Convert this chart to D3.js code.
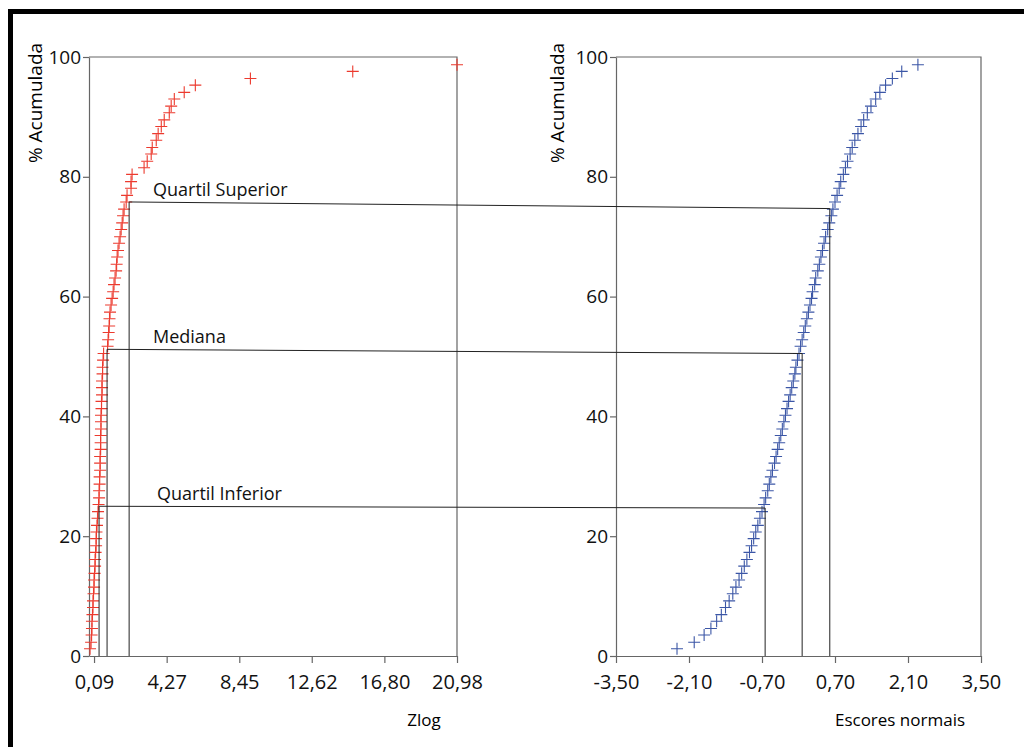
<!DOCTYPE html>
<html>
<head>
<meta charset="utf-8">
<script src="https://cdn.jsdelivr.net/npm/d3@7"></script>
<style>
  body { margin: 0; background: #fff; }
  svg { display: block; font-family: "Open Sans", sans-serif; }
  .axis path, .axis line { stroke: #666; stroke-width: 1.2; }
  .axis text { fill: #111; font-family: "Open Sans", sans-serif; }
</style>
</head>
<body>
<svg id="chart" width="1024" height="747"></svg>
<script>
// cumulative percentage of each observation (shared by both panels)
const pct = [1.2, 2.3, 3.5, 4.6, 5.8, 6.9, 8.1, 9.2, 10.4, 11.5,
  12.7, 13.8, 15.0, 16.1, 17.3, 18.4, 19.6, 20.7, 21.8, 23.0,
  24.1, 25.3, 26.4, 27.6, 28.7, 29.9, 31.0, 32.2, 33.3, 34.5,
  35.6, 36.8, 37.9, 39.1, 40.2, 41.3, 42.5, 43.6, 44.8, 45.9,
  47.1, 48.2, 49.4, 50.5, 51.7, 52.8, 54.0, 55.1, 56.3, 57.4,
  58.6, 59.7, 60.8, 62.0, 63.1, 64.3, 65.4, 66.6, 67.7, 68.9,
  70.0, 71.2, 72.3, 73.5, 74.6, 75.8, 76.9, 78.1, 79.2, 80.4,
  81.5, 82.6, 83.8, 84.9, 86.1, 87.2, 88.4, 89.5, 90.7, 91.8,
  93.0, 94.1, 95.3, 96.4, 97.6, 98.7];

// Zlog values (left panel)
const zlog = [-0.14, -0.08, -0.05, -0.03, -0.03, 0.00, 0.03, 0.03, 0.06, 0.09,
  0.09, 0.12, 0.15, 0.15, 0.18, 0.21, 0.21, 0.23, 0.26, 0.29,
  0.32, 0.35, 0.38, 0.38, 0.41, 0.41, 0.44, 0.44, 0.44, 0.47,
  0.47, 0.47, 0.49, 0.49, 0.49, 0.52, 0.52, 0.55, 0.55, 0.55,
  0.58, 0.58, 0.61, 0.64, 0.87, 0.90, 0.93, 0.96, 0.98, 1.01,
  1.07, 1.13, 1.19, 1.24, 1.30, 1.36, 1.39, 1.42, 1.47, 1.53,
  1.59, 1.65, 1.71, 1.76, 1.82, 1.94, 1.99, 2.22, 2.22, 2.28,
  2.97, 3.15, 3.38, 3.44, 3.67, 3.78, 3.96, 4.13, 4.42, 4.53,
  4.71, 5.28, 5.92, 9.09, 14.98, 20.98];

// normal scores (right panel)
const escores = [-2.33, -2.00, -1.81, -1.68, -1.57, -1.48, -1.40, -1.33, -1.26, -1.20,
  -1.14, -1.09, -1.04, -0.99, -0.94, -0.90, -0.86, -0.82, -0.78, -0.74,
  -0.70, -0.66, -0.63, -0.59, -0.56, -0.53, -0.50, -0.46, -0.43, -0.40,
  -0.37, -0.34, -0.31, -0.28, -0.25, -0.22, -0.19, -0.16, -0.13, -0.10,
  -0.07, -0.05, -0.02, 0.01, 0.04, 0.07, 0.10, 0.13, 0.16, 0.19,
  0.22, 0.25, 0.27, 0.31, 0.33, 0.37, 0.40, 0.43, 0.46, 0.49,
  0.52, 0.56, 0.59, 0.63, 0.66, 0.70, 0.74, 0.78, 0.81, 0.86,
  0.90, 0.94, 0.99, 1.03, 1.08, 1.14, 1.20, 1.25, 1.32, 1.39,
  1.48, 1.56, 1.67, 1.80, 1.98, 2.29];

// quartile guides
const quartLabels = ["Quartil Inferior", "Mediana", "Quartil Superior"];
const quartZlog = [0.38, 0.84, 2.11];
const quartEscores = [-0.64, 0.07, 0.60];
const quartPctLeft = [25.0, 51.2, 75.8];
const quartPctRight = [24.7, 50.5, 74.7];

// ticks
const yTicks = [0, 20, 40, 60, 80, 100];
const zlogTicks = [0.09, 4.27, 8.45, 12.62, 16.80, 20.98];
const escoresTicks = [-3.5, -2.1, -0.7, 0.7, 2.1, 3.5];

let svg = d3.select("#chart");

let ptBR = d3.formatLocale({decimal: ",", thousands: ".", grouping: [3], currency: ["", ""], minus: "-"});
let fmt2 = ptBR.format(".2f");

// outer black border (only top and left visible in the picture)
svg.append("path")
  .attr("d", "M10.5,760 L10.5,11.5 L1040,11.5")
  .attr("fill", "none")
  .attr("stroke", "#000")
  .attr("stroke-width", 5);

let y = d3.scaleLinear().domain([0, 100]).range([656, 57]);
let xL = d3.scaleLinear().domain([-0.2, 20.98]).range([89, 457]);
let xR = d3.scaleLinear().domain([-3.5, 3.5]).range([616, 981]);

let cross = "M-6,0H6M0,-6V6";

function drawPanel(x, ticks, xVals, color, xTitle, titleX, yTitleX) {
  let g = svg.append("g");

  // frame (top and right)
  g.append("path")
    .attr("d", `M${x.range()[0]},${y(100)}H${x.range()[1]}V${y(0)}`)
    .attr("fill", "none")
    .attr("stroke", "#666")
    .attr("stroke-width", 1.2);

  let xAxis = g.append("g").attr("class", "axis")
    .attr("transform", `translate(0,${y(0)})`)
    .call(d3.axisBottom(x).tickValues(ticks).tickSize(7).tickSizeOuter(0).tickPadding(12).tickFormat(fmt2));
  xAxis.selectAll("text").attr("font-size", 20);

  let yAxis = g.append("g").attr("class", "axis")
    .attr("transform", `translate(${x.range()[0]},0)`)
    .call(d3.axisLeft(y).tickValues(yTicks).tickSize(6).tickSizeOuter(0).tickPadding(2));
  yAxis.selectAll("text").attr("font-size", 19);

  g.append("text")
    .attr("x", titleX).attr("y", 726)
    .attr("text-anchor", "middle")
    .attr("font-size", 17)
    .text(xTitle);

  g.append("text")
    .attr("transform", `translate(${yTitleX},${103}) rotate(-90)`)
    .attr("text-anchor", "middle")
    .attr("font-size", 19)
    .text("% Acumulada");

  g.append("g").selectAll("path")
    .data(xVals)
    .join("path")
    .attr("transform", (d, i) => `translate(${x(d)},${y(pct[i])})`)
    .attr("d", cross)
    .attr("stroke", color)
    .attr("stroke-width", 1.1)
    .attr("fill", "none");

  return g;
}

drawPanel(xL, zlogTicks, zlog, "#ec3a2e", "Zlog", 424, 42);
drawPanel(xR, escoresTicks, escores, "#3b56a6", "Escores normais", 900, 564);

// quartile guide lines
let guides = svg.append("g").attr("stroke", "#222").attr("stroke-width", 1).attr("fill", "none");

quartLabels.forEach(function (label, i) {
  let lx = xL(quartZlog[i]), ly = y(quartPctLeft[i]);
  let rx = xR(quartEscores[i]), ry = y(quartPctRight[i]);
  guides.append("line").attr("x1", lx).attr("y1", y(0)).attr("x2", lx).attr("y2", ly);
  guides.append("line").attr("x1", rx).attr("y1", y(0)).attr("x2", rx).attr("y2", ry);
  guides.append("line").attr("x1", lx).attr("y1", ly).attr("x2", rx).attr("y2", ry);

  svg.append("text")
    .attr("x", i == 0 ? 157 : 153)
    .attr("y", ly - 6)
    .attr("font-size", 18)
    .attr("fill", "#111")
    .text(label);
});
</script>
</body>
</html>
